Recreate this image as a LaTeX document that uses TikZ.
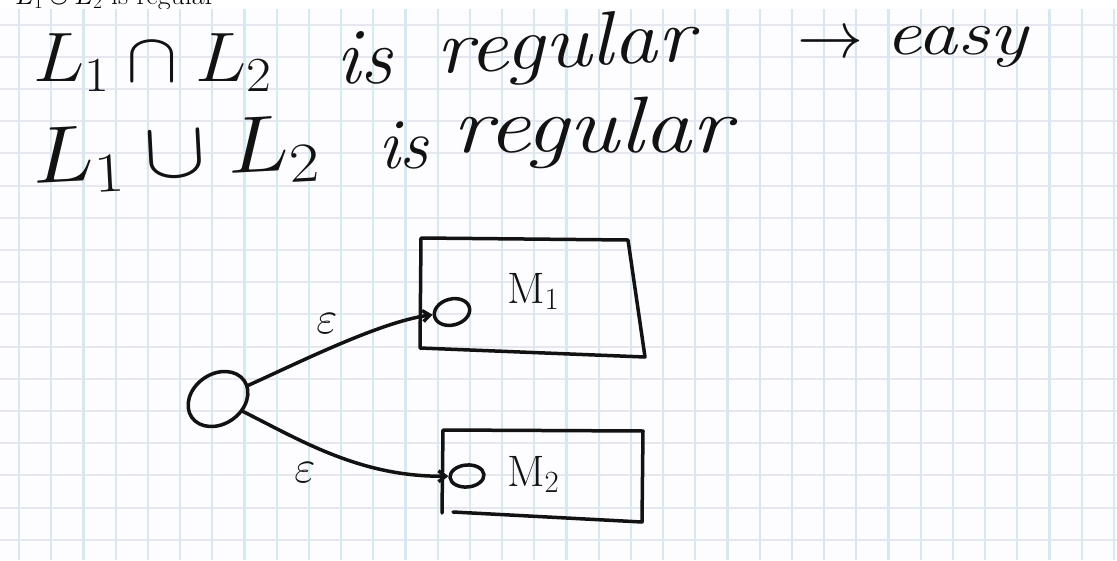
\RequirePackage{fix-cm}
\documentclass[tikz,border=0pt]{standalone}
\usepackage{graphicx}
\usetikzlibrary{shapes.geometric,arrows.meta}
\definecolor{paper}{HTML}{FDFCFE}
\definecolor{gridv}{HTML}{D4E9F4}
\definecolor{gridh}{HTML}{E7E7EF}
\definecolor{ink}{HTML}{121212}
\tikzset{
  hand/.style={text=ink, inner sep=0pt, anchor=base west},
  pen/.style={draw=ink, line width=3.5pt, line cap=round, line join=round},
  state/.style={pen, ellipse, inner sep=0pt},
  link/.style={pen, -{Straight Barb[length=7pt,width=11pt]}},
  lbl/.style={text=ink, inner sep=0pt, font=\fontsize{46}{46}\selectfont},
}
\begin{document}
\begin{tikzpicture}[x=1pt,y=-1pt]
\useasboundingbox (0,0) rectangle (1117,560);
\fill[white] (0,0) rectangle (1117,560);
% cut-off printed line at the very top
\node[hand, font=\fontsize{28}{30}\selectfont, text=black] (cut) at (15,4) {$L_1 \cup L_2$ is regular};
% squared paper
\fill[paper] (0,9) rectangle (1117,560);
\foreach \j in {0,...,16} \draw[gridh, line width=2pt] (0,{24.5+32.2*\j}) -- (1117,{24.5+32.2*\j});
\foreach \i in {0,...,34} \draw[gridv, line width=2.2pt] ({19+32.2*\i},9) -- ({19+32.2*\i},560);

% line 1
\node[hand, font=\fontsize{70}{70}\selectfont] (t1) at (33,81) {\scalebox{1.1}[1]{$L_1\cap L_2$}};
\node[hand, font=\fontsize{80}{80}\selectfont\itshape] (t2) at (336,83) {is};
\node[hand, font=\fontsize{76}{76}\selectfont\itshape, rotate=3] (t3) at (437,74) {\scalebox{1.17}[1]{regular}};
\node[hand, font=\fontsize{66}{66}\selectfont] (t4) at (797,57) {$\rightarrow$};
\node[hand, font=\fontsize{64}{64}\selectfont\itshape] (t5) at (885,54) {\scalebox{1.25}[1]{easy}};

% line 2
\node[hand, font=\fontsize{80}{80}\selectfont, rotate=3] (u1) at (33,184) {\scalebox{1.16}[1]{$L_1\cup L_2$}};
\node[hand, font=\fontsize{72}{72}\selectfont\itshape] (u2) at (378,168) {is};
\node[hand, font=\fontsize{80}{80}\selectfont\itshape] (u3) at (452,152) {\scalebox{1.2}[1]{regular}};

% automaton sketch
\node[state, minimum width=64pt, minimum height=50pt, rotate=35] (s0) at (218,399) {};
\draw[pen] (421,238) -- (628,240) -- (645,357) -- (420,348) -- cycle;
\draw[pen] (442,513) -- (443,430) -- (643,431) -- (642,522) -- (453,512);
\node[state, minimum width=36pt, minimum height=26pt, rotate=15] (q1) at (452,312) {};
\node[state, minimum width=34pt, minimum height=22pt, rotate=5] (q2) at (467,476) {};
\node[hand, font=\fontsize{44}{44}\selectfont] (m1) at (507,303) {$\mathrm{M}_1$};
\node[hand, font=\fontsize{44}{44}\selectfont] (m2) at (507,486) {$\mathrm{M}_2$};
\draw[link] (s0) .. controls (300,362) and (380,322) .. (q1);
\draw[link] (s0) .. controls (300,440) and (360,477) .. (q2);
\node[lbl] (e1) at (327,324) {$\varepsilon$};
\node[lbl] (e2) at (305,473) {$\varepsilon$};
\end{tikzpicture}
\end{document}
